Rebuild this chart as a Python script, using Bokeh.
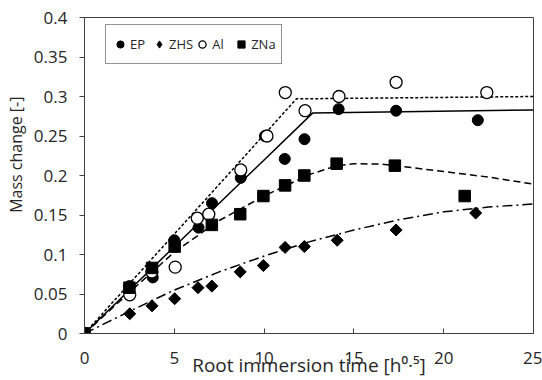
import numpy as np
from bokeh.plotting import figure
from bokeh.models import Range1d, FixedTicker, Legend, LegendItem
from bokeh.embed import file_html
from bokeh.resources import INLINE

# ---- data (root immersion time [h^0.5], mass change [-]) ----
ep_x = [0, 2.5, 3.8, 5.0, 6.35, 7.1, 8.7, 10.05, 11.15, 12.25, 14.15, 17.35, 21.9]
ep_y = [0, 0.060, 0.071, 0.118, 0.134, 0.165, 0.197, 0.250, 0.221, 0.246, 0.284, 0.282, 0.270]

zhs_x = [0, 2.52, 3.76, 5.02, 6.32, 7.09, 8.67, 9.96, 11.17, 12.24, 14.07, 17.35, 21.78]
zhs_y = [0, 0.025, 0.035, 0.044, 0.058, 0.060, 0.078, 0.086, 0.109, 0.110, 0.118, 0.131, 0.1525]

al_x = [0, 2.52, 3.75, 5.05, 6.28, 6.92, 8.7, 10.16, 11.18, 12.28, 14.17, 17.35, 22.4]
al_y = [0, 0.049, 0.078, 0.084, 0.146, 0.151, 0.207, 0.250, 0.305, 0.282, 0.300, 0.318, 0.305]

zna_x = [0, 2.5, 3.76, 5.02, 7.09, 8.67, 9.96, 11.17, 12.24, 14.04, 17.28, 21.17]
zna_y = [0, 0.058, 0.083, 0.110, 0.1375, 0.151, 0.174, 0.1875, 0.200, 0.215, 0.2125, 0.174]

# fitted model curves
ep_fit_x = [0, 12.7, 25]
ep_fit_y = [0, 0.279, 0.283]
al_fit_x = [0, 11.8, 25]
al_fit_y = [0, 0.297, 0.300]
zna_fit_x = [0, 2.5, 5, 7.5, 10, 12.5, 14, 15, 16.5, 17.5, 20, 22.5, 25]
zna_fit_y = [0, 0.052, 0.103, 0.143, 0.174, 0.201, 0.212, 0.2148, 0.2145, 0.212, 0.205, 0.198, 0.189]
zhs_fit_x = [0, 2.5, 5, 7.5, 10, 12.5, 15, 17.5, 20, 22.5, 25]
zhs_fit_y = [0, 0.028, 0.055, 0.078, 0.098, 0.116, 0.131, 0.144, 0.154, 0.160, 0.164]

series_names = ["EP", "ZHS", "Al", "ZNa"]

x_ticks = [0, 5, 10, 15, 20, 25]
x_tick_labels = ["0", "5", "10", "15", "20", "25"]
y_ticks = [0, 0.05, 0.1, 0.15, 0.2, 0.25, 0.3, 0.35, 0.4]
y_tick_labels = ["0", "0.05", "0.1", "0.15", "0.2", "0.25", "0.3", "0.35", "0.4"]

x_title = "Root immersion time [h\u2070\u00b7\u2075]"
y_title = "Mass change [-]"

FONT = "Open Sans"
AXC = "#404040"
TXT = "#262626"

p = figure(width=542, height=380, output_backend="svg", toolbar_location=None,
           x_range=Range1d(0, 25), y_range=Range1d(0, 0.4),
           min_border_left=84, min_border_right=9, min_border_top=17,
           min_border_bottom=45)
p.grid.visible = False
p.background_fill_color = "white"
p.border_fill_color = "white"
p.outline_line_color = AXC
p.outline_line_width = 1

# axes
p.xaxis.ticker = FixedTicker(ticks=x_ticks)
p.xaxis.major_label_overrides = {t: l for t, l in zip(x_ticks, x_tick_labels)}
p.yaxis.ticker = FixedTicker(ticks=y_ticks)
p.yaxis.major_label_overrides = {t: l for t, l in zip(y_ticks, y_tick_labels)}
for ax in (p.xaxis[0], p.yaxis[0]):
    ax.axis_line_color = AXC
    ax.major_tick_line_color = AXC
    ax.minor_tick_line_color = None
    ax.major_label_text_font = FONT
    ax.major_label_text_font_size = "17px"
    ax.major_label_text_color = TXT
    ax.axis_label_text_font = FONT
    ax.axis_label_text_font_style = "normal"
    ax.axis_label_text_color = TXT
p.xaxis.major_tick_in = 5
p.xaxis.major_tick_out = 0
p.xaxis.major_label_standoff = 18
p.xaxis.axis_label = x_title
p.xaxis.axis_label_text_font_size = "19px"
p.xaxis.axis_label_standoff = -15
p.yaxis.major_tick_in = 0
p.yaxis.major_tick_out = 5
p.yaxis.major_label_standoff = 12
p.yaxis.axis_label = "\u00a0" * 10 + y_title
p.yaxis.axis_label_text_font_size = "16px"
p.yaxis.axis_label_standoff = 4

# fitted lines
p.line(ep_fit_x, ep_fit_y, line_color="black", line_width=1.5)
p.line(al_fit_x, al_fit_y, line_color="black", line_width=1.5, line_dash="3 2")
p.line(zna_fit_x, zna_fit_y, line_color="black", line_width=1.5, line_dash="7 4")
p.line(zhs_fit_x, zhs_fit_y, line_color="black", line_width=1.5, line_dash="10 4 2 4")

# markers
r_ep = p.scatter(ep_x, ep_y, marker="circle", size=11, fill_color="black", line_color="black")
# diamond-shaped key for the legend (lies fully under the rotated squares below)
r_zhs_key = p.scatter(zhs_x, zhs_y, marker="diamond", size=10, fill_color="black", line_color="black")
r_zhs = p.scatter(zhs_x, zhs_y, marker="square", angle=np.pi / 4, size=8.5,
                  fill_color="black", line_color="black")
r_al = p.scatter(al_x, al_y, marker="circle", size=12, fill_color="white",
                 line_color="black", line_width=1.3)
r_zna = p.scatter(zna_x, zna_y, marker="square", size=11.5, fill_color="black", line_color="black")

legend = Legend(items=[LegendItem(label=n, renderers=[r]) for n, r in
                       zip(series_names, [r_ep, r_zhs_key, r_al, r_zna])],
                orientation="horizontal", location=(21, 269),
                label_text_font=FONT, label_text_font_size="13px", label_text_color=TXT,
                glyph_width=18, glyph_height=18, label_standoff=1, spacing=0,
                label_height=28, padding=5, margin=0,
                border_line_color="#262626", border_line_width=1,
                background_fill_color="white", background_fill_alpha=1)
p.add_layout(legend)

open("out.html", "w").write(file_html(p, INLINE))
